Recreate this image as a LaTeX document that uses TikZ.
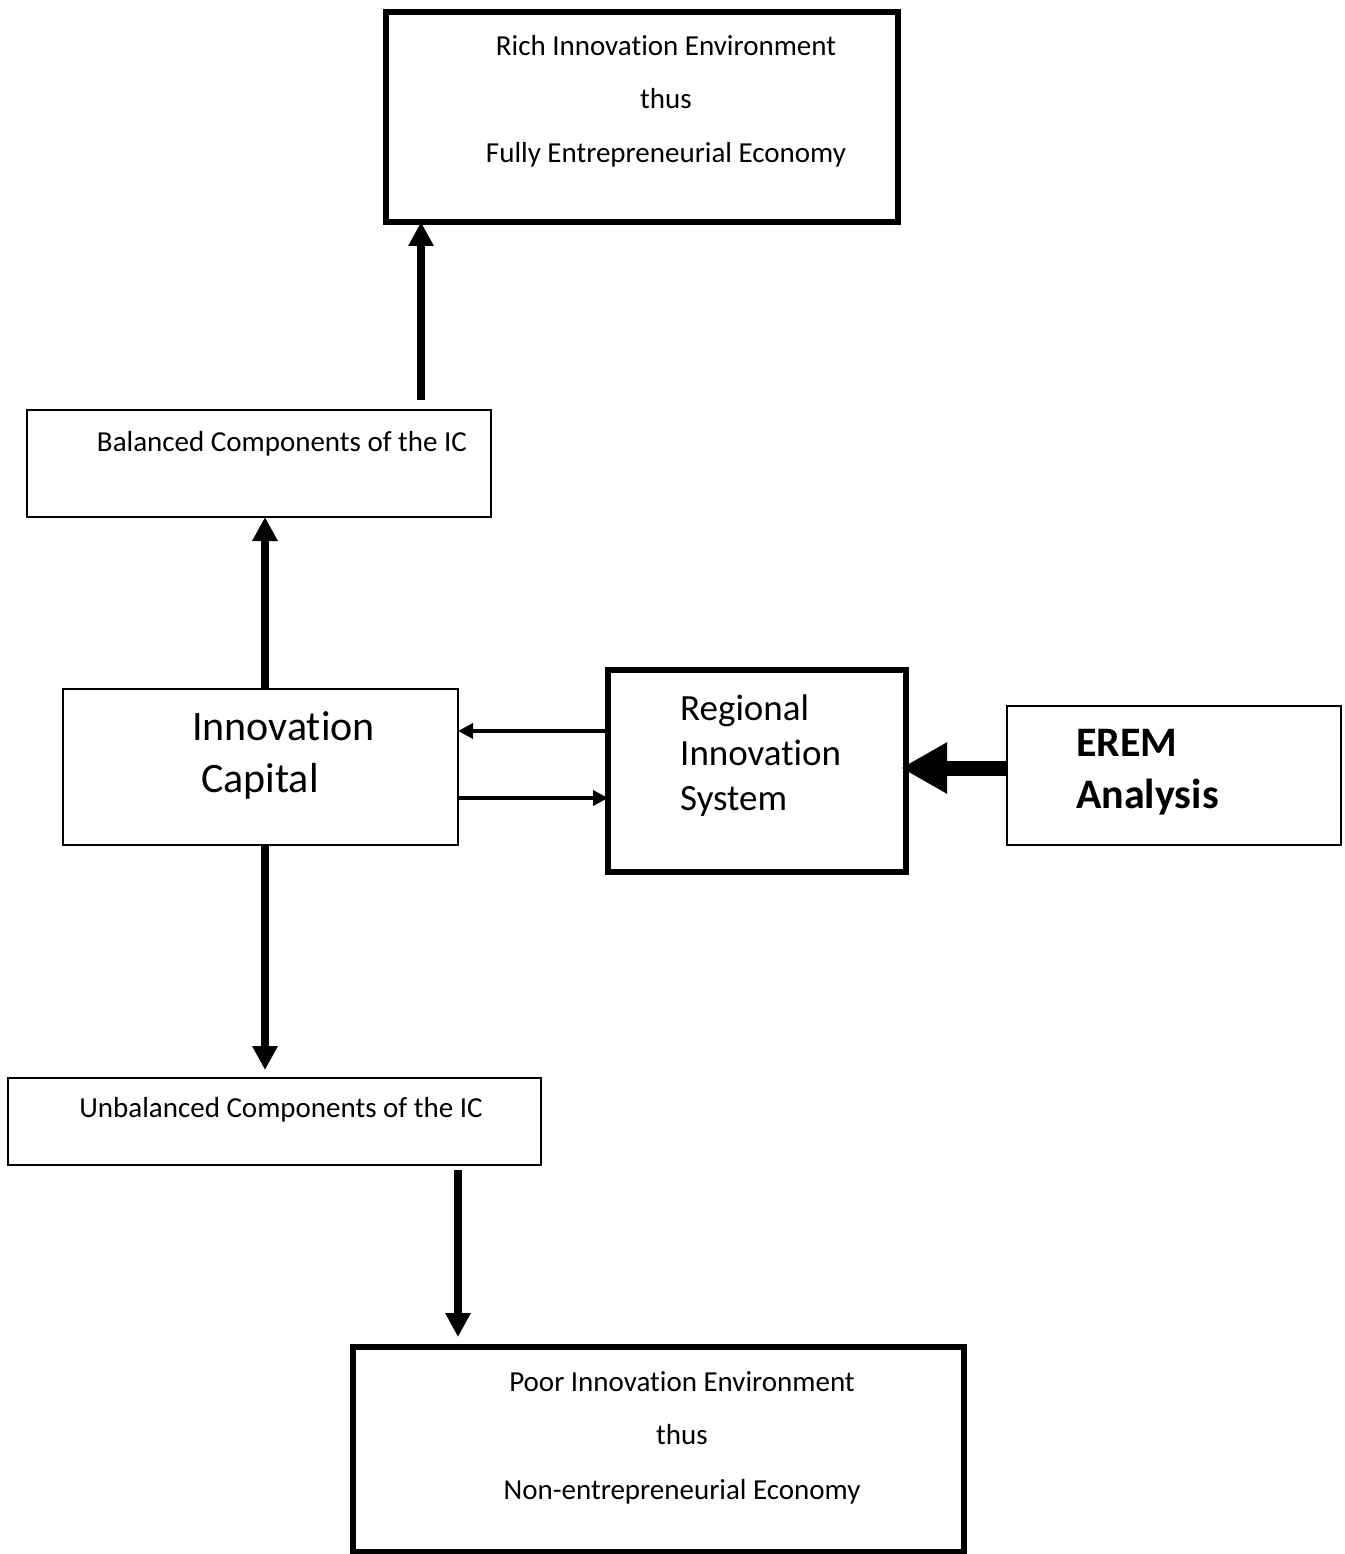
\documentclass[tikz,border=0pt]{standalone}
\usepackage{fontspec}
\setmainfont{Carlito}[Ligatures=NoCommon]
\usetikzlibrary{arrows.meta}
\begin{document}
\begin{tikzpicture}[x=1pt,y=-1pt,
  thinbox/.style={draw, line width=2pt, inner sep=0pt, outer sep=0pt, anchor=north west},
  thickbox/.style={draw, line width=5.5pt, inner sep=0pt, outer sep=0pt, anchor=north west},
  smalltxt/.style={inner sep=0pt, anchor=mid, yshift=-8pt, font=\fontsize{29}{29}\selectfont},
  bigtxt/.style={inner sep=0pt, anchor=mid west, yshift=-10pt, font=\fontsize{42}{42}\selectfont},
  ristxt/.style={inner sep=0pt, anchor=mid west, yshift=-10pt, font=\fontsize{37}{37}\selectfont},
  boldtxt/.style={inner sep=0pt, anchor=mid west, yshift=-10pt, font=\fontsize{42}{42}\selectfont\bfseries},
  thinarrow/.style={line width=3.5pt, -{Triangle[length=15pt,width=15pt]}},
  bigarrow/.style={line width=8pt, -{Triangle[length=24pt,width=24pt]}},
  hugearrow/.style={line width=15pt, -{Triangle[length=46pt,width=48pt]}}
]
\useasboundingbox (0,0) rectangle (1344,1554);
% boxes
\node[thickbox, minimum width=512pt, minimum height=210pt] (top) at (386,12) {};
\node[thinbox, minimum width=464pt, minimum height=107pt] (bal) at (27,410) {};
\node[thinbox, minimum width=395pt, minimum height=156pt] (ic) at (63,689) {};
\node[thickbox, minimum width=298pt, minimum height=202pt] (ris) at (608,670) {};
\node[thinbox, minimum width=334pt, minimum height=139pt] (erem) at (1007,706) {};
\node[thinbox, minimum width=533pt, minimum height=87pt] (ub) at (8,1078) {};
\node[thickbox, minimum width=611pt, minimum height=205pt] (bot) at (353,1347) {};
% texts
\node[smalltxt] (t1) at (666,45) {Rich Innovation Environment};
\node[smalltxt] (t2) at (666,98) {thus};
\node[smalltxt] (t3) at (666,152) {Fully Entrepreneurial Economy};
\node[smalltxt] (t4) at (282,441) {Balanced Components of the IC};
\node[bigtxt] (t5) at (192,728) {Innovation};
\node[bigtxt] (t6) at (201,780) {Capital};
\node[ristxt] (t7) at (680,708) {Regional};
\node[ristxt] (t8) at (680,753) {Innovation};
\node[ristxt] (t9) at (680,798) {System};
\node[boldtxt] (t10) at (1076,744) {EREM};
\node[boldtxt] (t11) at (1076,796) {Analysis};
\node[smalltxt] (t12) at (281,1107) {Unbalanced Components of the IC};
\node[smalltxt] (t13) at (682,1381) {Poor Innovation Environment};
\node[smalltxt] (t14) at (682,1434) {thus};
\node[smalltxt] (t15) at (682,1489) {Non-entrepreneurial Economy};
% connectors
\coordinate (a1s) at (421,400);
\coordinate (xa) at (265,0);
\coordinate (ya) at (0,731);
\coordinate (yb) at (0,798);
\coordinate (yc) at (0,768);
\coordinate (a4s) at (458,1170);
\draw[bigarrow] (a1s) -- (a1s |- top.south);
\draw[bigarrow] (ic.north -| xa) -- (bal.south -| xa);
\draw[bigarrow, shorten >=8pt] (ic.south -| xa) -- (ub.north -| xa);
\draw[bigarrow, shorten >=10pt] (a4s) -- (a4s |- bot.north);
\draw[thinarrow] (ris.west |- ya) -- (ic.east |- ya);
\draw[thinarrow] (ic.east |- yb) -- (ris.west |- yb);
\draw[hugearrow, shorten >=-5pt] (erem.west |- yc) -- (ris.east |- yc);
\end{tikzpicture}
\end{document}
